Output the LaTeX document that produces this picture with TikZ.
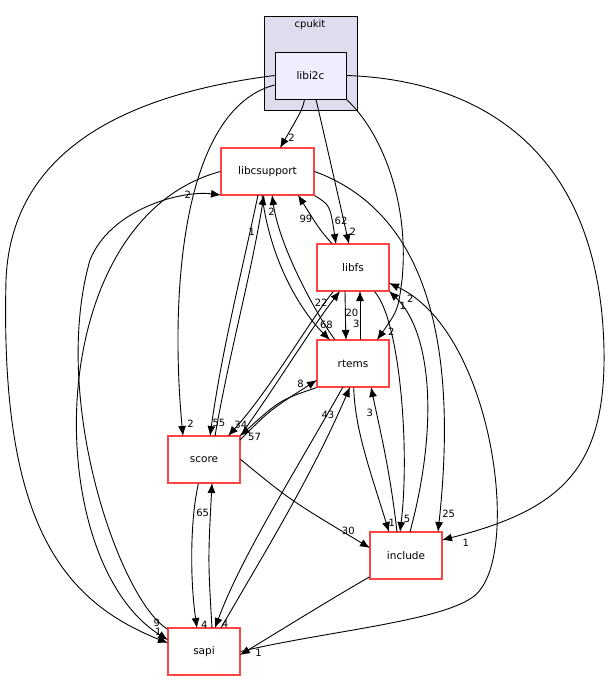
\documentclass[tikz,border=0pt]{standalone}
\usepackage{fontspec}
\setmainfont{DejaVu Sans}
\usetikzlibrary{arrows.meta}
\usetikzlibrary{calc}

\definecolor{clusterbg}{HTML}{DDDDEE}
\definecolor{dirbg}{HTML}{EEEEFF}
\definecolor{dirred}{HTML}{FF4444}

\begin{document}
\begin{tikzpicture}[x=1pt,y=-1pt,>/.tip={Latex[length=10pt,width=8pt]},line width=0.9pt,
	dir/.style={draw=dirred,line width=1.3pt,minimum width=72pt,minimum height=47pt,font=\fontsize{10.5}{12}\selectfont,inner sep=0pt},
	lbl/.style={font=\fontsize{10}{11}\selectfont,inner sep=0pt}]
	\useasboundingbox (0,0) rectangle (608,681);
	\draw[fill=clusterbg] (264,16) rectangle (357,110);
	\node[font=\fontsize{10}{11}\selectfont] (cpukit) at (310,25) {cpukit};
	\draw (310.5,75.5) node (libi2c) [draw,fill=dirbg,minimum width=71pt,minimum height=47pt,font=\fontsize{10.5}{12}\selectfont,inner sep=0pt] {libi2c};
	\draw (267.5,171.5) node (libcsupport) [dir,minimum width=93pt] {libcsupport};
	\draw (353,267.5) node (libfs) [dir] {libfs};
	\draw (353,363.5) node (rtems) [dir] {rtems};
	\draw (204,459.5) node (score) [dir] {score};
	\draw (406,555.5) node (include) [dir] {include};
	\draw (204,651.5) node (sapi) [dir] {sapi};

	% from libi2c
	\draw[->] (libi2c) .. controls (302,110) .. (280,148) node [lbl,pos=0.9,right=2pt] {2};
	\draw[->] (libi2c) .. controls (330,160) .. (349,244) node [lbl,pos=0.95,right=3pt] {2};
	\draw[->] (libi2c.south east) .. controls (380,130) and (410,200) .. (402,280) .. controls (398,310) .. (377,340) node [lbl,pos=0.9,right=5pt] {2};
	\draw[->] (libi2c) .. controls (180,110) and (170,300) .. (183,436) node [lbl,pos=0.97,right=5pt] {2};
	\draw[->] (libi2c.west) .. controls (80,100) and (10,180) .. (6,280) .. controls (0,520) and (60,600) .. (168,643) node [lbl,pos=0.97,above=3pt] {1};
	\draw[->] (libi2c.east) .. controls (480,80) and (600,150) .. (604,350) .. controls (606,470) and (560,510) .. (442,540) node [lbl,pos=0.95,below right=3pt] {1};

	% from libcsupport
	\draw[->] (libcsupport.south east) .. controls (330,205) .. (336,244) node [lbl,pos=0.75,right=2pt] {62};
	\draw[->] (libfs) .. controls (320,230) .. (298,195) node [lbl,pos=0.7,left] {99};
	\draw[->] (262,195) .. controls (270,260) and (300,310) .. (330,340) node [lbl,pos=0.85,right=3pt] {68};
	\draw[->] (rtems) .. controls (320,320) and (280,250) .. (272,195) node [lbl,pos=0.9,left] {2};
	\draw[->] (258,195) .. controls (240,280) and (222,350) .. (210,436) node [lbl,pos=0.97,above right=1pt] {55};
	\draw[->] (215,436) .. controls (230,350) and (250,280) .. (264,195) node [lbl,pos=0.85,left=2pt] {1};
	\draw[->] (libcsupport.east) .. controls (420,210) and (460,330) .. (438,532) node [lbl,pos=0.97,right=2pt] {25};
	\draw[->] (libcsupport.west) .. controls (40,220) and (40,560) .. (168,640) node [lbl,pos=0.97,above=5pt] {9};
	\draw[->] (sapi) .. controls (120,600) and (50,400) .. (90,260) .. controls (110,210) and (180,190) .. (221,195) node [lbl,pos=0.8,left=2pt] {2};

	% libfs and rtems
	\draw[->] (345,291) .. controls (345,310) .. (346,340) node [lbl,pos=0.55,right] {20};
	\draw[->] (360,340) .. controls (360,320) .. (360,291) node [lbl,pos=0.35,left] {3};
	\draw[->] (score.north east) .. controls (280,380) and (310,330) .. (340,291) node [lbl,pos=0.9,left=3pt] {22};
	\draw[->] (libfs) .. controls (310,320) and (270,390) .. (228,436) node [lbl,pos=0.96,above right=1pt] {34};
	\draw[->] (rtems.south west) .. controls (280,400) .. (240,436) node [lbl,pos=0.95,below right=2pt] {57};
	\draw[->] (240,440) .. controls (270,410) .. (317,380) node [lbl,pos=0.9,above left] {8};
	\draw[->] (libfs) .. controls (400,320) and (410,450) .. (400,532) node [lbl,pos=0.95,right=2pt] {5};
	\draw[->] (410,532) .. controls (440,420) and (430,330) .. (389,291) node [lbl,pos=0.93,below right=2pt] {1};
	\draw[->] (rtems) .. controls (355,430) and (370,470) .. (389,532) node [lbl,pos=0.95,right=2pt] {1};
	\draw[->] (397,532) .. controls (390,470) and (380,430) .. (371,387) node [lbl,pos=0.8,left=3pt] {3};
	\draw[->] (343,387) .. controls (290,480) and (240,560) .. (215,628) node [lbl,pos=0.98,right=5pt] {4};
	\draw[->] (221,628) .. controls (260,560) and (310,480) .. (350,387) node [lbl,pos=0.9,left=3pt] {43};

	% score, include, sapi
	\draw[->] (score) .. controls (190,520) and (190,580) .. (197,628) node [lbl,pos=0.98,right=4pt] {4};
	\draw[->] (212,628) .. controls (208,560) .. (212,483) node [lbl,pos=0.85,left=1pt] {65};
	\draw[->] (score.east) .. controls (290,500) .. (370,548) node [lbl,pos=0.9,above] {30};
	\draw[->] (include) .. controls (330,600) .. (240,655) node [lbl,pos=0.95,below right=2pt] {1};
	\draw[->] (sapi.east) .. controls (330,630) and (460,620) .. (480,590) .. controls (520,540) and (490,330) .. (389,283) node [lbl,pos=0.95,below right=3pt] {2};
\end{tikzpicture}
\end{document}
